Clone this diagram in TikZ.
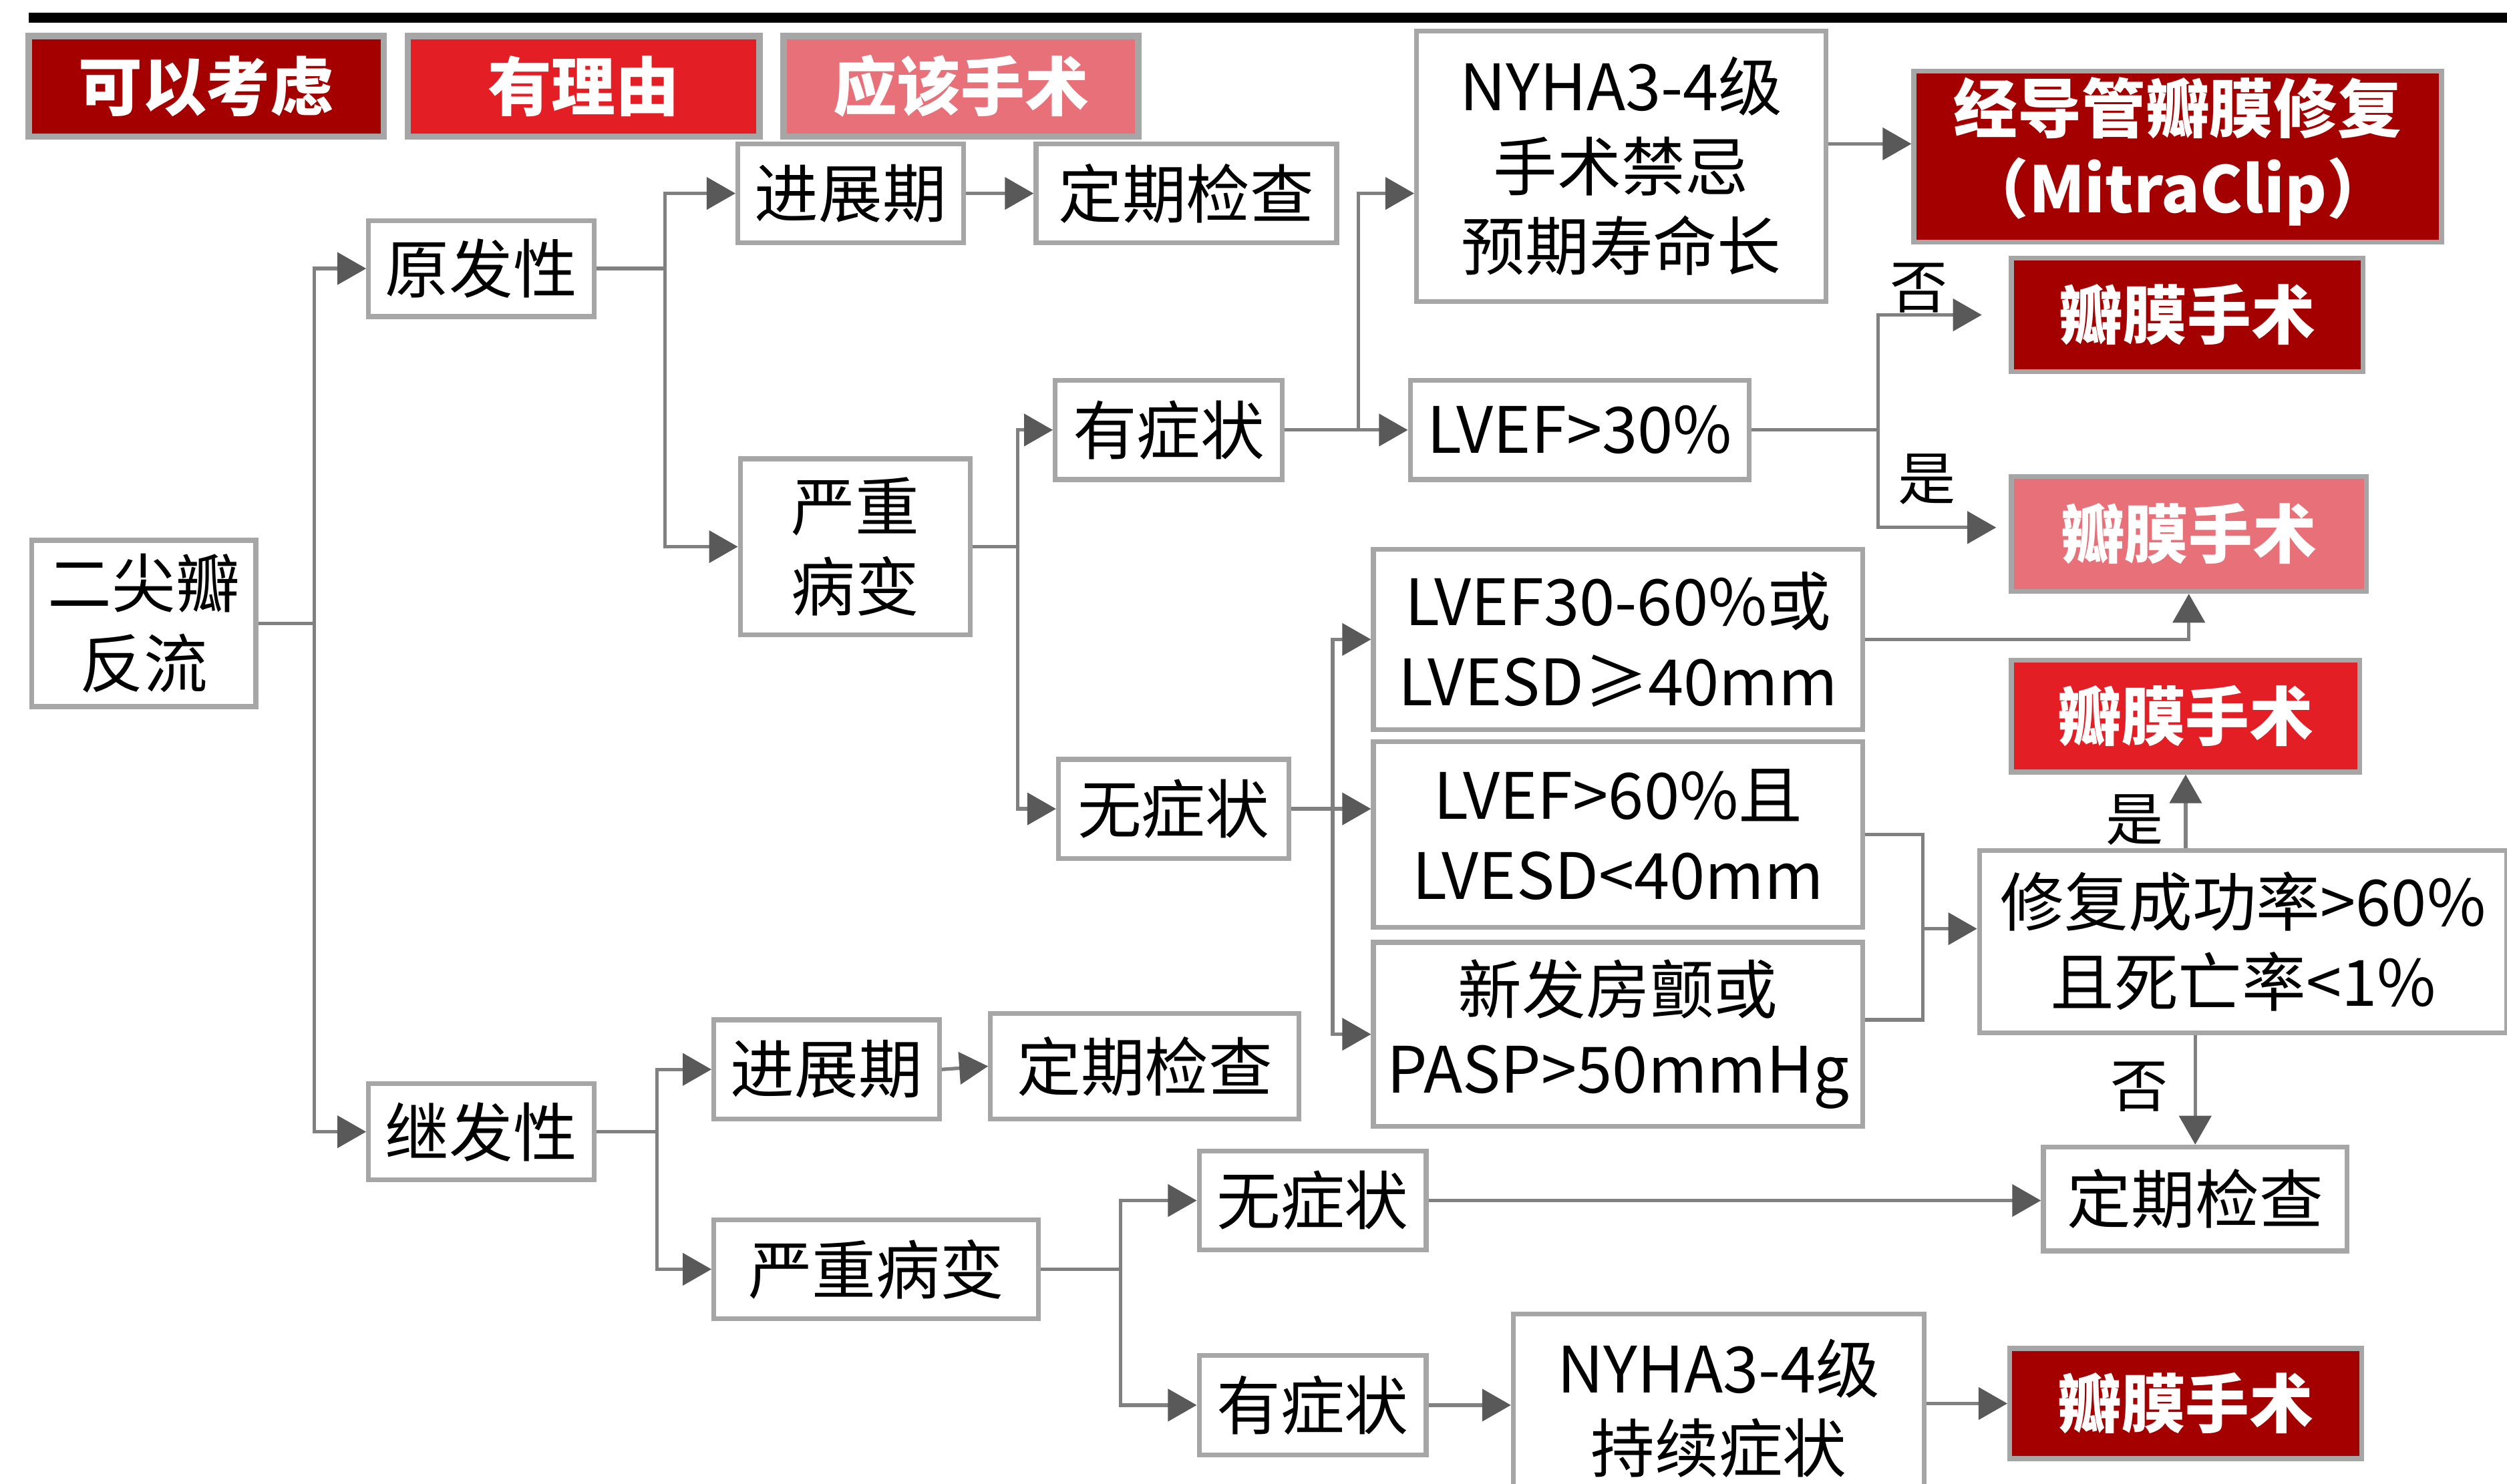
\documentclass[tikz,border=0pt]{standalone}
\usepackage{fontspec}
\setmainfont{Noto Sans CJK SC}
\usetikzlibrary{arrows.meta,calc}
\definecolor{boxgray}{RGB}{166,166,166}
\definecolor{linegray}{RGB}{128,128,128}
\definecolor{tipgray}{RGB}{89,89,89}
\definecolor{dred}{RGB}{165,0,0}
\definecolor{mred}{RGB}{227,30,36}
\definecolor{pred}{RGB}{232,112,120}
\begin{document}
\begin{tikzpicture}[x=1pt,y=-1pt,
 box/.style={draw=boxgray,line width=3pt,fill=white,inner sep=0pt,align=center,
   font=\fontsize{40}{50}\selectfont,text=black},
 sbox/.style={box,text=white,font=\fontsize{40}{50}\selectfont\bfseries},
 legend/.style={sbox,line width=4pt,minimum height=63pt},
 conn/.style={draw=linegray,line width=2.2pt},
 arr/.style={conn,-{Triangle[length=18pt,width=20pt,color=tipgray]}},
 lbl/.style={font=\fontsize{36}{40}\selectfont,inner sep=0pt}]
\clip (0,0) rectangle (1568,928);
\fill[white] (0,0) rectangle (1568,928);
\fill[black] (18,8) rectangle (1568,14);
% legend
\node[legend,fill=dred,minimum width=222pt] (lg1) at (129,54) {可以考虑};
\node[legend,fill=mred,minimum width=220pt] (lg2) at (365,54) {有理由};
\node[legend,fill=pred,minimum width=222pt] (lg3) at (601,54) {应该手术};
% nodes
\node[box,minimum width=140pt,minimum height=104pt] (erj) at (90,390) {二尖瓣\\反流};
\node[box,minimum width=141pt,minimum height=60pt] (yfx) at (301,168) {原发性};
\node[box,minimum width=141pt,minimum height=60pt] (jfx) at (301,708) {继发性};
\node[box,minimum width=141pt,minimum height=62pt] (jz1) at (532,121) {进展期};
\node[box,minimum width=188pt,minimum height=62pt] (dq1) at (742,121) {定期检查};
\node[box,minimum width=144pt,minimum height=110pt] (yz1) at (535,342) {严重\\病变};
\node[box,minimum width=142pt,minimum height=62pt] (yzz1) at (731,269) {有症状};
\node[box,minimum width=144pt,minimum height=62pt] (wzz1) at (734,506) {无症状};
\node[box,minimum width=256pt,minimum height=169pt] (nyha1) at (1014,104) {NYHA3-4级\\手术禁忌\\预期寿命长};
\node[box,minimum width=212pt,minimum height=62pt] (lvef30) at (988,269) {LVEF>30\%};
\node[sbox,fill=dred,minimum width=330pt,minimum height=107pt] (mc) at (1362,98) {\raisebox{-4pt}{\begin{tabular}{@{}c@{}}经导管瓣膜修复\\（MitraClip）\end{tabular}}};
\node[sbox,fill=dred,minimum width=220pt,minimum height=71pt] (vs1) at (1368,197) {瓣膜手术};
\node[sbox,fill=pred,minimum width=222pt,minimum height=72pt] (vs2) at (1369,334) {瓣膜手术};
\node[box,minimum width=306pt,minimum height=113pt] (lv3060) at (1012,400) {LVEF30-60\%或\\LVESD≥40mm};
\node[sbox,fill=mred,minimum width=218pt,minimum height=70pt] (vs3) at (1367,448) {瓣膜手术};
\node[box,minimum width=306pt,minimum height=116pt] (lv60) at (1012,522) {LVEF>60\%且\\LVESD<40mm};
\node[box,minimum width=306pt,minimum height=115pt] (af) at (1012,647) {新发房颤或\\PASP>50mmHg};
\node[box,minimum width=330pt,minimum height=114pt] (rep) at (1403,589) {修复成功率>60\%\\且死亡率<1\%};
\node[box,minimum width=190pt,minimum height=65pt] (dq2) at (1373,750) {定期检查};
\node[box,minimum width=141pt,minimum height=62pt] (jz2) at (517,669) {进展期};
\node[box,minimum width=193pt,minimum height=66pt] (dq3) at (716,667) {定期检查};
\node[box,minimum width=203pt,minimum height=62pt] (yz2) at (548,794) {严重病变};
\node[box,minimum width=142pt,minimum height=62pt] (wzz2) at (821,751) {无症状};
\node[box,minimum width=142pt,minimum height=62pt] (yzz2) at (821,879) {有症状};
\node[box,minimum width=257pt,minimum height=118pt] (nyha2) at (1075,881) {NYHA3-4级\\持续症状};
\node[sbox,fill=dred,minimum width=220pt,minimum height=69pt] (vs4) at (1367,878) {瓣膜手术};
% labels
\node[lbl] (no1) at (1200,180) {否};
\node[lbl] (yes1) at (1205,300) {是};
\node[lbl] (yes2) at (1335,513) {是};
\node[lbl] (no2) at (1338,680) {否};
% connectors
\draw[arr] (erj.east) -- ++(35,0) |- (yfx.west);
\draw[arr] (erj.east) -- ++(35,0) |- (jfx.west);
\draw[arr] (yfx.east) -- ++(43,0) |- (jz1.west);
\draw[arr] (yfx.east) -- ++(43,0) |- (yz1.west);
\draw[arr] (jz1.east) -- (dq1.west);
\draw[arr] (yz1.east) -- ++(28,0) |- (yzz1.west);
\draw[arr] (yz1.east) -- ++(28,0) |- (wzz1.west);
\draw[arr] (yzz1.east) -- (lvef30.west);
\draw[arr] (yzz1.east) -- ++(46,0) |- ([yshift=-17pt]nyha1.west);
\draw[arr] ([yshift=14pt]nyha1.east) -- ([yshift=14pt]nyha1.east -| mc.west);
\draw[conn] (lvef30.east) -- ++(79,0) coordinate (b7);
\draw[arr,shorten >=17pt] (b7) |- (vs1.west);
\draw[arr,shorten >=8pt] (b7) |- ([yshift=4pt]vs2.west);
\draw[conn] (wzz1.east) -- ++(26,0) coordinate (b8);
\draw[arr] (b8) |- (lv3060.west);
\draw[arr] (wzz1.east) -- (wzz1.east -| lv60.west);
\draw[arr] (b8) |- (af.west);
\draw[arr] (lv3060.east) -| (vs2.south);
\draw[conn] (lv60.east) -- ++(36,0) coordinate (b10) |- ([yshift=9pt]af.east);
\draw[arr] ([yshift=8pt]rep.west -| b10) -- ([yshift=8pt]rep.west);
\draw[arr] (rep.north -| vs3.south) -- (vs3.south);
\draw[arr] (rep.south -| dq2.north) -- (dq2.north);
\draw[arr] (jfx.east) -- ++(38,0) |- (jz2.west);
\draw[arr] (jfx.east) -- ++(38,0) |- (yz2.west);
\draw[arr] (jz2.east) -- (dq3.west);
\draw[arr] (yz2.east) -- ++(50,0) |- (wzz2.west);
\draw[arr] (yz2.east) -- ++(50,0) |- (yzz2.west);
\draw[arr] (wzz2.east) -- (wzz2.east -| dq2.west);
\draw[arr] (yzz2.east) -- (yzz2.east -| nyha2.west);
\draw[arr] (nyha2.east |- vs4.west) -- (vs4.west);
\end{tikzpicture}
\end{document}
